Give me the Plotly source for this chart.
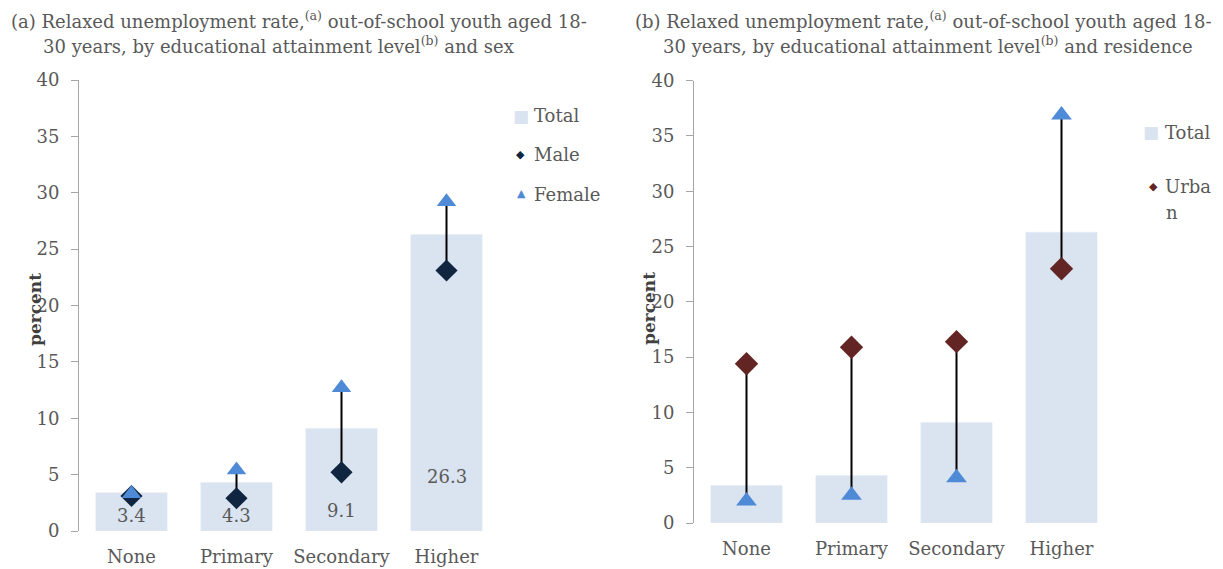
import plotly.graph_objects as go
from plotly.subplots import make_subplots

# Educational attainment categories
categories = ["None", "Primary", "Secondary", "Higher"]

# Relaxed unemployment rate (percent), out-of-school youth aged 18-30
total = [3.4, 4.3, 9.1, 26.3]
male = [3.1, 2.9, 5.2, 23.1]
female = [3.3, 5.4, 12.7, 29.2]
urban = [14.4, 15.9, 16.4, 23.0]
rural = [2.0, 2.5, 4.1, 36.9]

y_ticks = [0, 5, 10, 15, 20, 25, 30, 35, 40]

W, H = 1223, 569
FONT = "DejaVu Serif"
FS = 18
GREY = "#595959"
BAR = "#DAE3F0"
NAVY = "#10253F"
BLUE = "#4F8AD6"
MAROON = "#632523"


def px(x):
    return x / W


def py(y):
    return 1 - y / H


def connectors(a, b):
    xs, ys = [], []
    for c, va, vb in zip(categories, a, b):
        xs += [c, c, None]
        ys += [va, vb, None]
    return xs, ys


fig = make_subplots(rows=1, cols=2)

# ---- panel (a): by sex ----
fig.add_trace(go.Bar(x=categories, y=total, marker_color=BAR, showlegend=False), 1, 1)
lx, ly = connectors(female, male)
fig.add_trace(go.Scatter(x=lx, y=ly, mode="lines", line=dict(color="black", width=2),
                         showlegend=False, hoverinfo="skip"), 1, 1)
fig.add_trace(go.Scatter(x=categories, y=male, mode="markers", showlegend=False,
                         marker=dict(symbol="diamond", size=17, color=NAVY)), 1, 1)
fig.add_trace(go.Scatter(x=categories, y=female, mode="markers", showlegend=False,
                         marker=dict(symbol="triangle-up", size=17, color=BLUE)), 1, 1)

# ---- panel (b): by residence ----
fig.add_trace(go.Bar(x=categories, y=total, marker_color=BAR, showlegend=False), 1, 2)
rx, ry = connectors(urban, rural)
fig.add_trace(go.Scatter(x=rx, y=ry, mode="lines", line=dict(color="black", width=2),
                         showlegend=False, hoverinfo="skip"), 1, 2)
fig.add_trace(go.Scatter(x=categories, y=urban, mode="markers", showlegend=False,
                         marker=dict(symbol="diamond", size=18, color=MAROON)), 1, 2)
fig.add_trace(go.Scatter(x=categories, y=rural, mode="markers", showlegend=False,
                         marker=dict(symbol="triangle-up", size=18, color=BLUE)), 1, 2)

yaxis_style = dict(range=[0, 40], tickvals=y_ticks, showgrid=False, zeroline=False,
                   showline=True, linecolor="#A6A6A6", linewidth=1, ticks="outside",
                   ticklen=7, tickcolor="#A6A6A6", ticklabelstandoff=8, automargin=False,
                   tickfont=dict(family=FONT, size=FS, color=GREY))
xaxis_style = dict(range=[-0.5, 3.5], showgrid=False, zeroline=False, showline=False,
                   ticks="", ticklabelstandoff=13, automargin=False,
                   tickfont=dict(family=FONT, size=FS, color=GREY))

fig.update_layout(
    width=W, height=H, margin=dict(l=0, r=0, t=0, b=0, pad=0), autosize=False,
    paper_bgcolor="white", plot_bgcolor="white", bargap=0.32, showlegend=False,
    xaxis=dict(domain=[px(79), px(499)], **xaxis_style),
    xaxis2=dict(domain=[px(694), px(1114)], **xaxis_style),
    yaxis=dict(domain=[py(531), py(80)], **yaxis_style),
    yaxis2=dict(domain=[py(523), py(80.7)], **yaxis_style),
)

ann = []


def text(x, y, s, size=FS, anchor="left", color=GREY, **kw):
    ann.append(dict(x=px(x), y=py(y), xref="paper", yref="paper", text=s, showarrow=False,
                    xanchor=anchor, yanchor="middle", font=dict(family=FONT, size=size, color=color), **kw))


# titles
text(9, 20, "(a) Relaxed unemployment rate,<sup>(a)</sup> out-of-school youth aged 18-")
text(41, 45, "30 years, by educational attainment level<sup>(b)</sup> and sex")
text(923, 20, "(b) Relaxed unemployment rate,<sup>(a)</sup> out-of-school youth aged 18-", anchor="center")
text(928, 45, "30 years, by educational attainment level<sup>(b)</sup> and residence", anchor="center")

# axis titles
text(35, 310, "<b>percent</b>", size=17, anchor="center", color="#404040", textangle=-90)
text(649, 309, "<b>percent</b>", size=17, anchor="center", color="#404040", textangle=-90)

# value labels inside the total bars of panel (a)
label_heights = [1.4, 1.4, 1.85, 4.8]
for c, v, h in zip(categories, total, label_heights):
    ann.append(dict(x=c, y=h, xref="x", yref="y", text=f"{v:.1f}", showarrow=False,
                    font=dict(family=FONT, size=FS, color=GREY)))

# legend keys (glyph + label)
text(521, 116, "■", size=17, anchor="center", color=BAR)
text(532, 116, "Total")
text(520, 155, "◆", size=11, anchor="center", color=NAVY)
text(532, 155, "Male")
text(521, 193, "▲", size=11, anchor="center", color=BLUE)
text(532, 194, "Female")
text(1151, 132, "■", size=17, anchor="center", color=BAR)
text(1163, 132, "Total")
text(1153, 187, "◆", size=11, anchor="center", color=MAROON)
text(1163, 187, "Urba")
text(1164, 212, "n")

fig.update_layout(annotations=ann)
fig.write_html("out.html")
